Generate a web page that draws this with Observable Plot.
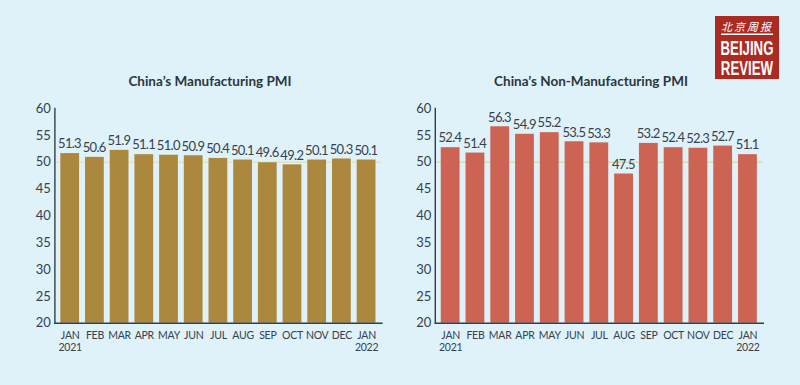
<!DOCTYPE html>
<html>
<head>
<meta charset="utf-8">
<script src="https://cdn.jsdelivr.net/npm/d3@7"></script>
<script src="https://cdn.jsdelivr.net/npm/@observablehq/plot@0.6"></script>
<style>
html,body{margin:0;padding:0;background:#dff2fa;}
#page{position:relative;width:800px;height:385px;overflow:hidden;background:#dff2fa;font-family:Lato,sans-serif;color:#2f3a44;}
.t{position:absolute;top:72px;font-weight:700;font-size:13.5px;line-height:18px;text-align:center;color:#2b3640;white-space:nowrap;}
#logo{position:absolute;left:715px;top:16px;width:64px;height:63px;background:#ab2a22;color:#fff;}
g[aria-label="text"]{letter-spacing:-0.7px;}
g[aria-label="x-axis tick label"]{letter-spacing:-0.25px;}
</style>
</head>
<body>
<div id="page">
  <div class="t" style="left:110px;width:200px;">China’s Manufacturing PMI</div>
  <div class="t" style="left:491px;width:200px;">China’s Non-Manufacturing PMI</div>
  <svg id="logo" viewBox="0 0 64 63">
    <text x="32" y="15" text-anchor="middle" font-family="'Noto Sans CJK SC'" font-size="11" font-style="italic" fill="#fff" letter-spacing="2">北京周报</text>
    <rect x="6" y="17.5" width="52" height="1.5" fill="#fff"/>
    <text transform="translate(32,38.5) scale(0.68,1)" text-anchor="middle" font-family="'Liberation Sans'" font-weight="700" font-size="19.5" fill="#fff">BEIJING</text>
    <text transform="translate(32,58.5) scale(0.68,1)" text-anchor="middle" font-family="'Liberation Sans'" font-weight="700" font-size="19.5" fill="#fff">REVIEW</text>
  </svg>
</div>
<script>
const months = ["JAN\n2021","FEB","MAR","APR","MAY","JUN","JUL","AUG","SEP","OCT","NOV","DEC","JAN\n2022"];
const manufacturing = [51.3,50.6,51.9,51.1,51.0,50.9,50.4,50.1,49.6,49.2,50.1,50.3,50.1];
const nonManufacturing = [52.4,51.4,56.3,54.9,55.2,53.5,53.3,47.5,53.2,52.4,52.3,52.7,51.1];
const yTicks = [20,25,30,35,40,45,50,55,60];
const threshold = 50;

function panel(values, fill, ruleColor, left, marginLeft, marginRight) {
  const rows = values.map((v,i)=>({i, v}));
  const svg = Plot.plot({
    width: 400, height: 385,
    marginTop: 108, marginBottom: 62.3, marginLeft, marginRight,
    style: {background:"transparent", fontFamily:"Lato, sans-serif", color:"#36414b", overflow:"visible"},
    x: {type:"band", domain: months.map((_,i)=>i), padding: 0.24, round:false, axis:null, label:null},
    y: {domain:[20,60], axis:null, label:null},
    marks: [
      Plot.ruleY([threshold], {stroke: ruleColor, strokeWidth: 1.5}),
      Plot.rectY(rows, {x:"i", y1:20, y2:"v", fill, dy:-1.6, insetBottom:-1.6}),
      Plot.text(rows, {x:"i", y:"v", text:d=>d.v.toFixed(1), dx:-0.7, dy:-11, fontSize:13, fill:"#36414b"}),
      Plot.axisY({ticks:yTicks, tickSize:0, tickPadding:4, fontSize:13, tickFormat:d=>d, fill:"#36414b", label:null}),
      Plot.axisX({tickSize:0, tickPadding:7, fontSize:10.5, lineHeight:1.17, fill:"#36414b", tickFormat:i=>months[i], label:null}),
      Plot.frame({anchor:"left", stroke:"#333e48", strokeWidth:1.4}),
      Plot.frame({anchor:"bottom", stroke:"#333e48", strokeWidth:1.4})
    ]
  });
  svg.style.position = "absolute";
  svg.style.left = left + "px";
  svg.style.top = "0";
  document.getElementById("page").prepend(svg);
}
panel(manufacturing, "#ab883e", "#e6e2c4", 0, 54.4, 18.6);
panel(nonManufacturing, "#cd6453", "#d5dcb4", 400, 34.8, 37.2);
</script>
</body>
</html>
